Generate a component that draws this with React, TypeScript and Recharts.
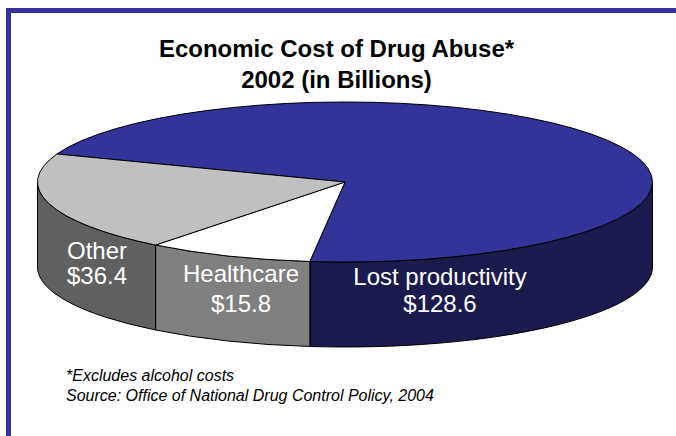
import { Pie, PieChart } from "recharts";

const categories = ["Lost productivity", "Healthcare", "Other"];
const billions = [128.6, 15.8, 36.4];
const topColors = ["#333399", "#ffffff", "#c0c0c0"];
const wallColors = ["#1a1a4d", "#808080", "#606060"];

const W = 676;
const H = 436;
const CX = 345;
const CY = 182;
const RX = 307.5;
const RY = 80;
const DEPTH = 85;

// label centres, in page coordinates
const labelAt = [
  { x: 440, y: 285, gap: 27 },
  { x: 241, y: 282, gap: 30 },
  { x: 97, y: 259, gap: 25 },
];

const data = categories.map((name, i) => ({ name, value: billions[i] }));

const rim = (deg: number, drop = 0) => {
  const rad = (deg * Math.PI) / 180;
  return `${CX + RX * Math.cos(rad)},${CY - RY * Math.sin(rad) + drop}`;
};

// Pie hands over the angles; each slice is squashed into an ellipse and given a wall
function Slice(props: any) {
  const { startAngle, endAngle, index } = props;
  const i = index ?? categories.indexOf(props.name);
  const large = startAngle - endAngle > 180 ? 1 : 0;
  const top = `M${CX},${CY} L${rim(startAngle)} A${RX},${RY} 0 ${large} 1 ${rim(endAngle)} Z`;

  // only the lower half of the rim faces the viewer
  const hi = Math.min(startAngle, 0);
  const lo = Math.max(endAngle, -180);
  const wall =
    hi > lo
      ? `M${rim(hi)} A${RX},${RY} 0 0 1 ${rim(lo)} L${rim(lo, DEPTH)} A${RX},${RY} 0 0 0 ${rim(hi, DEPTH)} Z`
      : null;

  const pos = labelAt[i];
  return (
    <g>
      {wall && <path d={wall} fill={wallColors[i]} stroke="#000" strokeWidth={1} />}
      <path d={top} fill={topColors[i]} stroke="#000" strokeWidth={1} />
      <text
        x={pos.x}
        y={pos.y}
        textAnchor="middle"
        fill="#fff"
        fontFamily="Liberation Sans"
        fontSize={24}
      >
        <tspan x={pos.x}>{categories[i]}</tspan>
        <tspan x={pos.x} dy={pos.gap}>{`$${billions[i].toFixed(1)}`}</tspan>
      </text>
    </g>
  );
}

const textBase = {
  position: "absolute" as const,
  fontFamily: "Liberation Sans",
  color: "#000",
  whiteSpace: "nowrap" as const,
};

export default function App() {
  return (
    <div style={{ position: "absolute", left: 0, top: 0, width: W, height: H, background: "#fff", overflow: "hidden" }}>
      <div style={{ position: "absolute", left: 6, top: 8, width: 5, height: H - 8, background: "#333399" }} />
      <div style={{ position: "absolute", left: 6, top: 8, width: W - 6, height: 5, background: "#333399" }} />
      <PieChart width={W} height={H} margin={{ top: 0, right: 0, bottom: 0, left: 0 }} style={{ position: "absolute", left: 0, top: 0 }}>
        <Pie
          data={data}
          dataKey="value"
          nameKey="name"
          cx={CX}
          cy={CY}
          innerRadius={0}
          outerRadius={RX}
          startAngle={159.5}
          endAngle={-200.5}
          shape={Slice}
          stroke="none"
          isAnimationActive={false}
        />
      </PieChart>
      <div style={{ ...textBase, left: 0, width: 676, paddingLeft: 0, textAlign: "center", top: 33, fontSize: 24, fontWeight: 700, lineHeight: "31px" }}>
        <div style={{ marginLeft: 0, position: "absolute", left: 336.5, transform: "translateX(-50%)" }}>Economic Cost of Drug Abuse*</div>
        <div style={{ position: "absolute", left: 336.5, top: 31, transform: "translateX(-50%)" }}>2002 (in Billions)</div>
      </div>
      <div style={{ ...textBase, left: 66, top: 366, fontSize: 16, fontStyle: "italic", lineHeight: "20px" }}>
        *Excludes alcohol costs
        <br />
        Source: Office of National Drug Control Policy, 2004
      </div>
    </div>
  );
}
